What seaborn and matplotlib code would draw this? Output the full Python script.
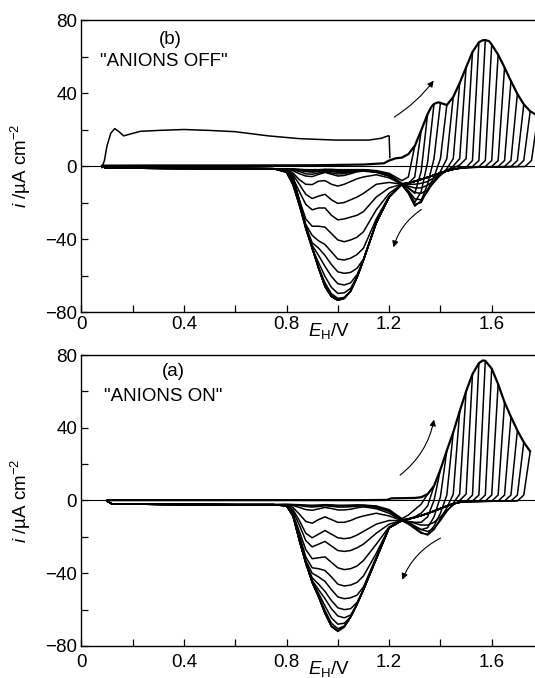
import numpy as np
import pandas as pd
import matplotlib
matplotlib.use("Agg")
import matplotlib.pyplot as plt
import seaborn as sns
from matplotlib.ticker import MultipleLocator, FuncFormatter

sns.set_style("ticks")
plt.rcParams["font.family"] = ["Liberation Sans", "DejaVu Sans"]
plt.rcParams["mathtext.fontset"] = "custom"
plt.rcParams["mathtext.rm"] = "Liberation Sans"
plt.rcParams["mathtext.it"] = "Liberation Sans:italic"
plt.rcParams["mathtext.bf"] = "Liberation Sans:bold"
for key in ["text.color", "axes.labelcolor", "xtick.color", "ytick.color",
            "axes.edgecolor"]:
    plt.rcParams[key] = "black"

# ---------------------------------------------------------------- panel (b)
# anodic envelope (potential / V, current density / uA cm^-2)
env_E_b = [0.08, 0.30, 0.60, 0.90, 1.10, 1.18, 1.20, 1.225, 1.25, 1.275, 1.30,
           1.325, 1.35, 1.365, 1.375, 1.39, 1.40, 1.425, 1.45, 1.475, 1.50,
           1.525, 1.55, 1.565, 1.575, 1.59, 1.60, 1.625, 1.65, 1.675, 1.70,
           1.725, 1.75, 1.78]
env_i_b = [0.2, 0.3, 0.3, 0.4, 0.8, 1.5, 3.0, 4.2, 4.6, 6.5, 11.0,
           19.5, 28.5, 32.5, 34.0, 34.9, 34.6, 33.4, 37.8, 45.5, 54.0,
           62.5, 67.8, 68.9, 69.0, 68.4, 66.5, 61.0, 54.0, 46.5, 39.5,
           33.8, 30.0, 27.5]

# first sweep with the large double-layer current
hump_E_b = [0.08, 0.09, 0.10, 0.115, 0.13, 0.145, 0.165, 0.19, 0.23, 0.30,
            0.40, 0.50, 0.60, 0.73, 0.85, 0.99, 1.12, 1.17, 1.195, 1.20, 1.203]
hump_i_b = [-1.0, 3.0, 11.0, 18.0, 20.5, 19.0, 16.5, 17.5, 19.0, 19.5,
            20.0, 19.5, 18.8, 16.5, 15.0, 14.2, 14.2, 15.2, 16.5, 16.5, 4.5]

# switching potentials of the successive cycles
vertex_b = [1.30, 1.325, 1.35, 1.375, 1.40, 1.425, 1.45, 1.475, 1.50, 1.525,
            1.55, 1.575, 1.60, 1.625, 1.65, 1.675, 1.70, 1.725, 1.75, 1.78]

# cathodic currents just after switching (0.025 V steps down to 1.25 V)
after_vertex_b = {
    1.30: [-6, -8],
    1.325: [-6, -9.5, -9.5],
    1.35: [-3, -15, -12, -10],
    1.375: [2, -14, -20, -14, -10.5],
    1.40: [4, -10, -19, -22, -15, -10.5],
    1.425: [4, -6, -13, -20, -21, -14.5, -10],
    1.45: [4, -3, -8, -14, -18.5, -18, -13.5, -10],
    1.475: [4, -1.5, -5, -9, -13, -15, -14.5, -12, -10],
    1.50: [4, 0, -2.5, -5, -8, -10.5, -12, -12, -11, -10],
    1.525: [4, 0.5, -1, -2.5, -4.5, -6.5, -8.5, -9.5, -10, -10, -10],
}
ret_E = [1.50, 1.475, 1.45, 1.425, 1.40, 1.375, 1.35, 1.325, 1.30, 1.275, 1.25]
ret_i_b = [-0.8, -1.2, -1.8, -2.7, -3.8, -5.0, -6.2, -7.3, -8.4, -9.3, -10.0]
drop_dE = [0.025, 0.05]
drop_i = [3.0, -0.3]

# oxide-reduction region, one row per cycle
main_E = [1.20, 1.15, 1.10, 1.075, 1.05, 1.025, 1.00, 0.975, 0.95, 0.925,
          0.90, 0.875, 0.85, 0.825, 0.80]
main_b = [
    [-4, -2.5, -2, -2, -2, -2, -2, -1.8, -1.8, -2, -2, -2, -1.8, -1.6, -1.5],
    [-4.5, -2.8, -2.2, -2.2, -2.4, -2.5, -2.5, -2.2, -2, -2.2, -2.4, -2.3, -2, -1.7, -1.5],
    [-5, -3, -2.4, -2.5, -2.8, -3, -3, -2.6, -2.3, -2.6, -2.9, -2.7, -2.2, -1.8, -1.6],
    [-5.5, -3.2, -2.5, -2.7, -3.2, -3.5, -3.5, -3, -2.6, -3, -3.4, -3.1, -2.4, -1.9, -1.6],
    [-5.5, -3.3, -2.6, -2.8, -3.6, -4.2, -4.4, -3.8, -3.2, -3.8, -4.5, -4.3, -3, -2.1, -1.7],
    [-5.5, -3.5, -2.8, -3.2, -4.2, -5.2, -5.5, -4.5, -3.5, -4.6, -5.8, -5.5, -4.2, -2.6, -1.8],
    [-6.5, -4.8, -6, -7, -8.5, -10, -11, -10, -8, -8.3, -10.2, -10, -7.5, -3.8, -2],
    [-9, -10, -15, -17, -18.5, -20, -20.5, -18.5, -15.5, -16.5, -17.8, -15.5, -10, -4.8, -2.3],
    [-12, -17, -25, -27, -28, -29, -29.5, -27, -23, -23, -24, -21, -14, -6.5, -2.6],
    [-15, -24, -36, -39, -40.5, -41.5, -40.5, -37, -33.5, -33, -33, -29, -18.5, -8.5, -3],
    [-16.5, -29, -45, -48.5, -50.5, -51.5, -51, -47, -43, -41, -38, -32, -21, -10, -3.4],
    [-17, -31, -51, -56, -58.3, -58.8, -58, -54, -49, -45, -42, -33, -21.5, -10.5, -3.5],
    [-17, -31, -51.5, -59.5, -64, -65.2, -64.5, -60.5, -55, -49, -43.5, -34, -21.5, -10, -3.3],
    [-17, -31, -51.5, -60.5, -67, -69.5, -69.8, -66.5, -60.5, -53, -45, -34.5, -21, -9, -3],
    [-17, -31, -51.5, -61, -68.5, -72, -72.5, -70, -64, -55.5, -45.5, -34, -20, -7.5, -2.5],
    [-17, -31, -51.5, -61, -68.5, -72.5, -73.2, -71, -65.5, -56, -45, -33.5, -19.5, -6.5, -2.2],
    [-17, -31, -51.5, -61, -68.5, -72.5, -73.4, -71.5, -66, -56, -44.5, -33, -19, -6, -2],
    [-17, -31, -51.5, -61, -68.5, -72.5, -73.5, -71.5, -66, -56, -44.5, -33, -19, -6, -2],
    [-17, -31, -51.5, -61, -68.5, -72.5, -73.6, -71.5, -66, -56, -44.5, -33, -19, -6, -2],
    [-17, -31, -51.5, -61, -68.5, -72.5, -73.6, -71.5, -66, -56, -44.5, -33, -19, -6, -2],
]
tail_E_b = [0.75, 0.60, 0.40, 0.20, 0.10, 0.08]
tail_i_b = [-1.5, -1.4, -1.3, -1.2, -1.1, -0.3]

# ---------------------------------------------------------------- panel (a)
env_E_a = [0.10, 0.40, 0.80, 1.10, 1.19, 1.21, 1.30, 1.325, 1.35, 1.375, 1.40,
           1.425, 1.45, 1.475, 1.50, 1.525, 1.55, 1.565, 1.575, 1.60, 1.625,
           1.65, 1.675, 1.70, 1.725, 1.75]
env_i_a = [0.2, 0.2, 0.2, 0.2, 0.3, 1.2, 1.4, 1.8, 3.5, 8.0, 17.0,
           27.5, 37.5, 49.0, 60.0, 69.5, 75.5, 77.0, 76.8, 72.5, 64.0,
           54.0, 46.0, 38.5, 32.0, 27.0]

vertex_a = [1.35, 1.375, 1.40, 1.425, 1.45, 1.475, 1.50, 1.525, 1.55, 1.575,
            1.60, 1.625, 1.65, 1.675, 1.70, 1.725, 1.75]

after_vertex_a = {
    1.35: [-2, -5, -8, -10],
    1.375: [-3, -7, -9, -10, -10.5],
    1.40: [0, -9, -12, -12, -11.5, -11],
    1.425: [2, -9, -15, -16, -14.5, -12.5, -11],
    1.45: [3, -7, -14, -18.5, -18, -15.5, -13, -11],
    1.475: [3.5, -4, -10, -16, -19, -17.5, -15, -12.5, -11],
    1.50: [3.5, -1.5, -6, -11, -15.5, -17, -16, -14, -12, -11],
    1.525: [3.5, 0, -2.5, -5.5, -9, -12, -13.5, -13.5, -12.5, -11.5, -11],
}
ret_i_a = [-0.6, -1.0, -1.8, -3.0, -4.4, -5.8, -7.1, -8.3, -9.3, -10.2, -11.0]

main_a = [
    [-5, -3, -2.5, -2.4, -2.5, -2.6, -2.6, -2.4, -2.3, -2.5, -2.6, -2.5, -2.3, -2.2, -2.2],
    [-5.5, -3.3, -2.7, -2.7, -2.9, -3, -3, -2.7, -2.5, -2.8, -3, -2.8, -2.5, -2.3, -2.2],
    [-6, -3.8, -3, -3.1, -3.4, -3.6, -3.6, -3.2, -2.9, -3.3, -3.6, -3.3, -2.8, -2.4, -2.2],
    [-7, -4.5, -3.5, -4, -4.8, -5.2, -5.2, -4.4, -3.8, -4.6, -5.4, -5, -3.8, -2.8, -2.3],
    [-8.5, -7, -8.5, -9.5, -11, -12, -12, -10.5, -9, -10.5, -12.5, -11.5, -7.5, -3.8, -2.5],
    [-11, -13, -17, -19, -20.5, -21, -20.5, -18.5, -16.5, -18.5, -20.5, -18, -11, -5, -2.7],
    [-13, -18, -24, -26, -27.5, -28, -27.5, -25, -22.5, -24, -25.5, -22, -13.5, -6, -2.8],
    [-14.5, -24, -33, -36, -37.5, -38, -37, -34, -31, -31.5, -32, -27, -17, -7.5, -3],
    [-15, -29, -41.5, -45, -46.5, -47, -46, -42, -38.5, -37.5, -37, -31, -19, -8, -3],
    [-15, -31, -47.5, -52, -53.5, -54, -53, -49, -44.5, -42, -40, -33, -20.5, -8.5, -3],
    [-15, -32, -49, -56, -59.5, -60, -59, -55, -50, -46, -42.5, -34, -21, -8.5, -3],
    [-15, -32, -49, -57, -63, -64.5, -63.5, -59.5, -54, -49, -44, -34.5, -21.5, -8.5, -2.8],
    [-15, -32, -49, -57, -64, -67.5, -68, -64.5, -58, -51, -44.5, -34.5, -21.5, -8.5, -2.7],
    [-15, -32, -49, -57, -64, -69, -70.5, -67.5, -60.5, -52.5, -45, -34.5, -22, -8.3, -2.6],
    [-15, -32, -49, -57, -64, -69.5, -71.5, -69, -62, -53, -45, -34, -22, -8, -2.5],
    [-15, -32, -49, -57, -64, -69.5, -71.8, -69.2, -62, -53, -45, -34, -22, -8, -2.5],
    [-15, -32, -49, -57, -64, -69.5, -72, -69.3, -62, -53, -45, -34, -22, -8, -2.5],
]
tail_E_a = [0.75, 0.60, 0.40, 0.20, 0.12, 0.10]
tail_i_a = [-2.3, -2.3, -2.2, -2.0, -1.9, -0.3]


def cathodic_sweeps(vertices, env_E, env_i, after_vertex, ret_i, rows,
                    tail_E, tail_i):
    """Return one long table with the cathodic sweep of every cycle."""
    env = dict(zip(env_E, env_i))
    frames = []
    for k, (V, row) in enumerate(zip(vertices, rows)):
        E, I = [V], [env[V]]
        if V in after_vertex:
            vals = after_vertex[V]
            E += [V - 0.025 * (j + 1) for j in range(len(vals))]
            I += vals
        else:
            for dE, di in zip(drop_dE, drop_i):
                if V - dE > ret_E[0] + 1e-9:
                    E.append(V - dE)
                    I.append(di)
            E += ret_E
            I += ret_i
        E += main_E
        I += row
        E += tail_E
        I += tail_i
        frames.append(pd.DataFrame({"E": E, "i": I, "cycle": k}))
    return pd.concat(frames, ignore_index=True)


sweeps_b = cathodic_sweeps(vertex_b, env_E_b, env_i_b, after_vertex_b,
                           ret_i_b, main_b, tail_E_b, tail_i_b)
sweeps_a = cathodic_sweeps(vertex_a, env_E_a, env_i_a, after_vertex_a,
                           ret_i_a, main_a, tail_E_a, tail_i_a)

fig = plt.figure(figsize=(5.35, 6.78), dpi=100)
ax_b = fig.add_axes([0.152, 0.5398, 0.863, 0.4307])
ax_a = fig.add_axes([0.152, 0.0472, 0.863, 0.4292])

FS = 13.5


def style_axes(ax, pad):
    ax.axhline(0, color="black", lw=0.8, zorder=1)
    ax.set_xlim(0, 1.8)
    ax.set_ylim(-80, 80)
    ax.xaxis.set_major_locator(MultipleLocator(0.4))
    ax.xaxis.set_minor_locator(MultipleLocator(0.2))
    ax.yaxis.set_major_locator(MultipleLocator(40))
    ax.yaxis.set_minor_locator(MultipleLocator(20))
    ax.xaxis.set_major_formatter(
        FuncFormatter(lambda v, p: "0" if abs(v) < 1e-9 else f"{v:.1f}"))
    ax.yaxis.set_major_formatter(
        FuncFormatter(lambda v, p: f"{v:.0f}".replace("-", "\u2212")))
    ax.tick_params(which="both", direction="in", length=5, width=0.9,
                   colors="black", labelcolor="black", labelsize=FS,
                   top=False, right=False)
    ax.tick_params(axis="x", which="both", pad=pad)
    ax.tick_params(axis="y", which="both", pad=3)
    for side in ["left", "bottom", "top"]:
        ax.spines[side].set_linewidth(1.0)
        ax.spines[side].set_color("black")
    ax.spines["right"].set_visible(False)
    ax.set_ylabel(r"$i$ /µA cm$^{-2}$", fontsize=FS, color="black")
    ax.yaxis.set_label_coords(-0.105, 0.5)
    ax.set_xlabel(r"$E_{\mathrm{H}}$/V", fontsize=FS, color="black")


# ---- panel (b)
sns.lineplot(data=sweeps_b, x="E", y="i", units="cycle", estimator=None,
             sort=False, color="black", lw=1.1, ax=ax_b, legend=False)
sns.lineplot(x=env_E_b, y=env_i_b, sort=False, color="black", lw=1.6, ax=ax_b)
sns.lineplot(x=hump_E_b, y=hump_i_b, sort=False, color="black", lw=1.1, ax=ax_b)
style_axes(ax_b, pad=3)
ax_b.xaxis.set_label_coords(0.536, -0.03)
ax_b.text(0.346, 69.5, "(b)", fontsize=FS, ha="center", va="center")
ax_b.text(0.32, 57, '"ANIONS OFF"', fontsize=FS, ha="center", va="center")
arrow = dict(arrowstyle="-|>", color="black", lw=0.8, mutation_scale=9)
ax_b.annotate("", xy=(1.38, 48), xytext=(1.211, 26),
              arrowprops=dict(arrow, connectionstyle="arc3,rad=0.1"))
ax_b.annotate("", xy=(1.214, -46), xytext=(1.335, -23),
              arrowprops=dict(arrow, connectionstyle="arc3,rad=0.2"))

# ---- panel (a)
sns.lineplot(data=sweeps_a, x="E", y="i", units="cycle", estimator=None,
             sort=False, color="black", lw=1.1, ax=ax_a, legend=False)
sns.lineplot(x=env_E_a, y=env_i_a, sort=False, color="black", lw=1.6, ax=ax_a)
style_axes(ax_a, pad=6)
ax_a.xaxis.set_label_coords(0.536, -0.045)
ax_a.text(0.36, 71, "(a)", fontsize=FS, ha="center", va="center")
ax_a.text(0.318, 57, '"ANIONS ON"', fontsize=FS, ha="center", va="center")
ax_a.annotate("", xy=(1.377, 46), xytext=(1.234, 13),
              arrowprops=dict(arrow, connectionstyle="arc3,rad=0.2"))
ax_a.annotate("", xy=(1.247, -45), xytext=(1.41, -20),
              arrowprops=dict(arrow, connectionstyle="arc3,rad=0.2"))

fig.savefig("out.png", dpi=100)
